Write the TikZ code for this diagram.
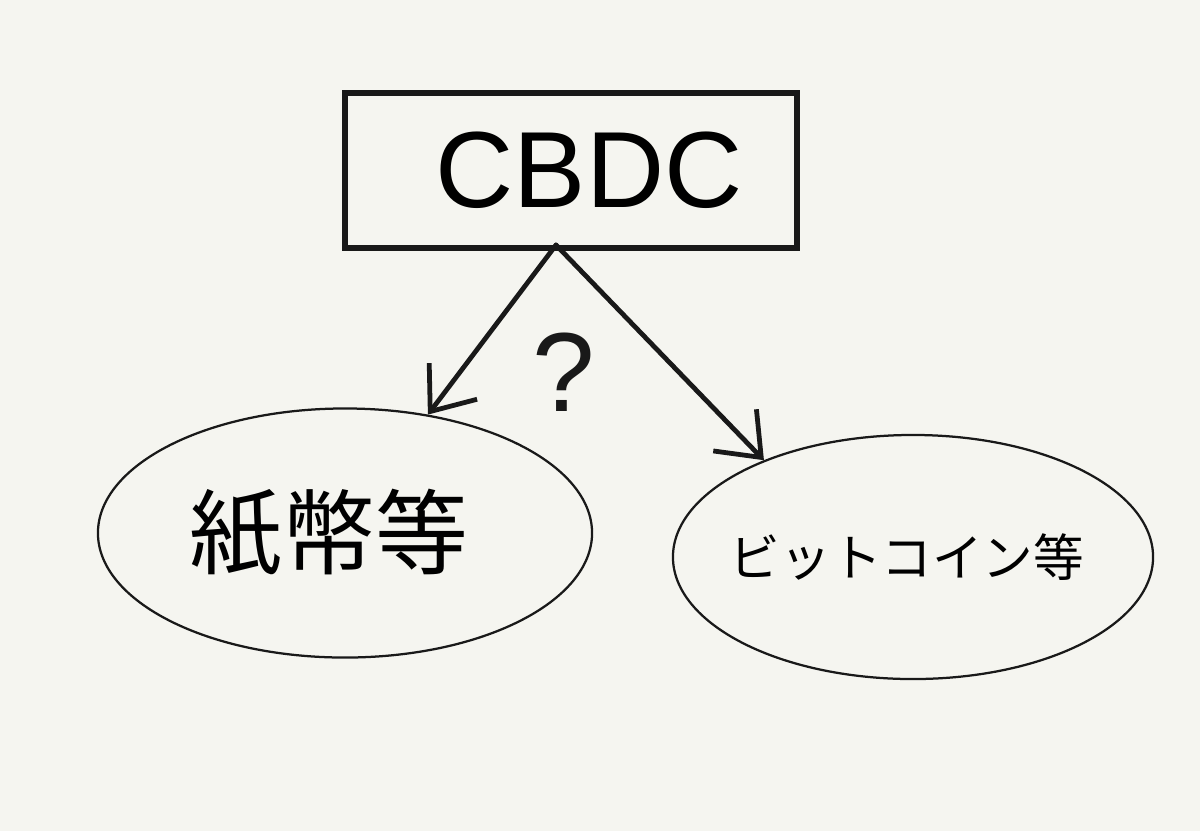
\documentclass[tikz,border=0pt]{standalone}
\usepackage{fontspec}
\setmainfont{Liberation Sans}
\newfontfamily\jpfont{Noto Sans CJK JP}
\usetikzlibrary{arrows.meta,positioning,shapes.geometric}
\definecolor{paper}{RGB}{245,245,240}
\definecolor{ink}{RGB}{25,25,25}

\begin{document}
\begin{tikzpicture}[
    x=0.025cm, y=-0.025cm,
    box/.style={draw=ink, line width=4pt, minimum width=11.3cm, minimum height=3.875cm, inner sep=0pt},
    oval/.style={draw=ink, ellipse, line width=1.6pt, inner sep=0pt},
    arr/.style={draw=ink, line width=3.4pt, line cap=round, -{Straight Barb[length=0.95cm, width=1.5cm, line width=3.4pt]}}
]
\fill[paper] (0,0) rectangle (1200,831);
\useasboundingbox (0,0) rectangle (1200,831);

\node[box] (cbdc) at (571,170.5) {\fontsize{77}{80}\selectfont\hspace*{0.9cm}CBDC};
\node[oval, minimum width=12.35cm, minimum height=6.225cm] (cash) at (345,533)
    {\makebox[0pt]{\jpfont\fontsize{66}{70}\selectfont\hspace*{-0.8cm}紙幣等}};
\node[oval, minimum width=12cm, minimum height=6.1cm] (btc) at (913,557)
    {\makebox[0pt]{\jpfont\fontsize{36}{40}\selectfont\hspace*{-0.3cm}ビットコイン等}};

% where both arrows leave the box
\coordinate (split) at (556,245);
\draw[arr] (split) -- (cash.55);
\draw[arr] (split) -- (btc.147);

\node[text=ink] (q) at (564,372) {\fontsize{80}{80}\selectfont ?};

\end{tikzpicture}
\end{document}
